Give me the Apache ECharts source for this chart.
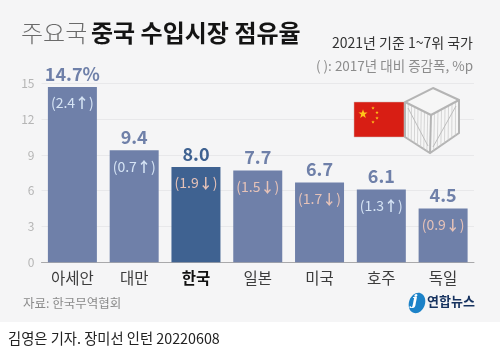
<!DOCTYPE html>
<html><head><meta charset="utf-8">
<style>html,body{margin:0;padding:0;background:#fff}#c{width:500px;height:351px}</style>
<script src="https://cdn.jsdelivr.net/npm/echarts@6/dist/echarts.min.js"></script></head>
<body><div id="c"></div>
<script>
const categories=['아세안','대만','한국','일본','미국','호주','독일'];
const shares=[14.7,9.4,8.0,7.7,6.7,6.1,4.5];
const shareLabels=['14.7%','9.4','8.0','7.7','6.7','6.1','4.5'];
const changes=[2.4,0.7,-1.9,-1.5,-1.7,1.3,-0.9];
const highlight='한국';
const F='"Noto Sans CJK KR","Noto Sans",sans-serif';
const barC='#6f80a9',hiC='#3f6291',upC='#d6e4f5',downC='#e6c2b8';
function star(cx,cy,r){const p=[];for(let i=0;i<10;i++){const a=-Math.PI/2+i*Math.PI/5,q=i%2?r*0.4:r;p.push([cx+q*Math.cos(a),cy+q*Math.sin(a)]);}return p;}
function slats(){const out=[],st={stroke:'#c6c6c6',lineWidth:0.7};
 for(let i=1;i<8;i++){const t=i/8;
  out.push({type:'line',z:51,shape:{x1:405+26*t,y1:102+13*t,x2:405+25*t,y2:137+16*t},style:st});
  out.push({type:'line',z:51,shape:{x1:431+28*t,y1:115-15*t,x2:430+29*t,y2:153-20*t},style:st});}
 out.push({type:'line',z:51,shape:{x1:408,y1:108,x2:428,y2:146},style:{stroke:'#bdbdbd',lineWidth:1}});
 out.push({type:'line',z:51,shape:{x1:433,y1:147,x2:456,y2:106},style:{stroke:'#bdbdbd',lineWidth:1}});
 return out;}
const chart=echarts.init(document.getElementById('c'),null,{renderer:'canvas'});
chart.setOption({
 animation:false,
 backgroundColor:'#fff',
 grid:{left:41.5,top:83.5,width:432.5,height:178.7,containLabel:false},
 xAxis:{type:'category',data:categories,
  axisLine:{lineStyle:{color:'#a9a9ab',width:1}},axisTick:{show:false},
  axisLabel:{interval:0,margin:8,fontFamily:F,fontSize:15.5,color:'#3c3c3c',
   formatter:v=>v===highlight?'{b|'+v+'}':v,
   rich:{b:{fontFamily:F,fontSize:15.5,fontWeight:'bold',color:'#111'}}}},
 yAxis:{type:'value',min:0,max:15,interval:3,
  axisLine:{show:false},axisTick:{show:false},
  splitLine:{lineStyle:{color:'#e8e8ea',width:1}},
  axisLabel:{margin:7,fontFamily:F,fontSize:12,color:'#b5b5b5',align:'right'}},
 series:[
  {type:'bar',barWidth:49,barGap:'-100%',
   data:shares.map((v,i)=>({value:v,itemStyle:{color:categories[i]===highlight?hiC:barC},
    label:{color:categories[i]===highlight?hiC:barC}})),
   label:{show:true,position:'top',distance:4,fontFamily:F,fontSize:18,fontWeight:'bold',
    formatter:p=>shareLabels[p.dataIndex]}},
  {type:'bar',barWidth:49,barGap:'-100%',silent:true,
   data:shares,itemStyle:{color:'rgba(0,0,0,0)'},
   label:{show:true,position:'insideTop',distance:9,fontFamily:F,fontSize:14,
    formatter:p=>{const c=changes[p.dataIndex];
     return c>0?'{u|('+c.toFixed(1)+'}{ua|↑}{u|)}':'{d|('+Math.abs(c).toFixed(1)+'}{da|↓}{d|)}';},
    rich:{u:{color:upC,fontFamily:F,fontSize:14},ua:{color:upC,fontFamily:F,fontSize:14,fontWeight:'bold'},
     d:{color:downC,fontFamily:F,fontSize:14},da:{color:downC,fontFamily:F,fontSize:14,fontWeight:'bold'}}}}
 ],
 graphic:[
  {type:'rect',z:-10,silent:true,shape:{x:0,y:0,width:500,height:322},style:{fill:'#f5f5f6'}},
  {type:'text',left:21,top:21,style:{text:'주요국',font:'300 24px '+F,fill:'#6a6a6a'}},
  {type:'text',left:91,top:21,style:{text:'중국 수입시장 점유율',font:'bold 24px '+F,fill:'#141414'}},
  {type:'text',right:27,top:36,style:{text:'2021년 기준 1~7위 국가',font:'14px '+F,fill:'#333',textAlign:'right'}},
  {type:'text',right:27,top:59,style:{text:'( ): 2017년 대비 증감폭, %p',font:'13.5px '+F,fill:'#8c8c8c',textAlign:'right'}},
  {type:'text',left:23,top:297,style:{text:'자료: 한국무역협회',font:'12.5px '+F,fill:'#8a8a8a'}},
  {type:'text',left:8,top:331,style:{text:'김영은 기자. 장미선 인턴 20220608',font:'14.3px '+F,fill:'#222'}},
  {type:'rect',z:50,shape:{x:354,y:102,width:50,height:35},style:{fill:'#d81e14',stroke:'#d0b8b0',lineWidth:0.5}},
  {type:'polygon',z:51,shape:{points:star(363,114,4.8)},style:{fill:'#ffc61a'}},
  {type:'polygon',z:51,shape:{points:star(373,108,1.8)},style:{fill:'#ffc61a'}},
  {type:'polygon',z:51,shape:{points:star(377,112.5,1.8)},style:{fill:'#ffc61a'}},
  {type:'polygon',z:51,shape:{points:star(377,118,1.8)},style:{fill:'#ffc61a'}},
  {type:'polygon',z:51,shape:{points:star(373,122,1.8)},style:{fill:'#ffc61a'}},
  {type:'polygon',z:50,shape:{points:[[433,88],[459,100],[459,133],[430,153],[405,137],[405,102]]},style:{fill:'#f6f6f6',stroke:'#b4b4b4',lineWidth:2}},
  ...slats(),
  {type:'polyline',z:52,shape:{points:[[405,102],[431,115],[459,100]]},style:{fill:'none',stroke:'#b4b4b4',lineWidth:2}},
  {type:'line',z:52,shape:{x1:431,y1:115,x2:430,y2:153},style:{stroke:'#b4b4b4',lineWidth:2}},
  {type:'ellipse',z:50,shape:{cx:417,cy:303,rx:8,ry:10.5},rotation:-0.35,originX:417,originY:303,style:{fill:'#1c82c8'}},
  {type:'text',z:51,left:412,top:294,style:{text:'j',font:'italic bold 15px "DejaVu Serif",serif',fill:'#fff'}},
  {type:'text',z:50,left:427,top:295,style:{text:'연합뉴스',font:'bold 13px '+F,fill:'#16325f'}}
 ]
});
</script></body></html>
